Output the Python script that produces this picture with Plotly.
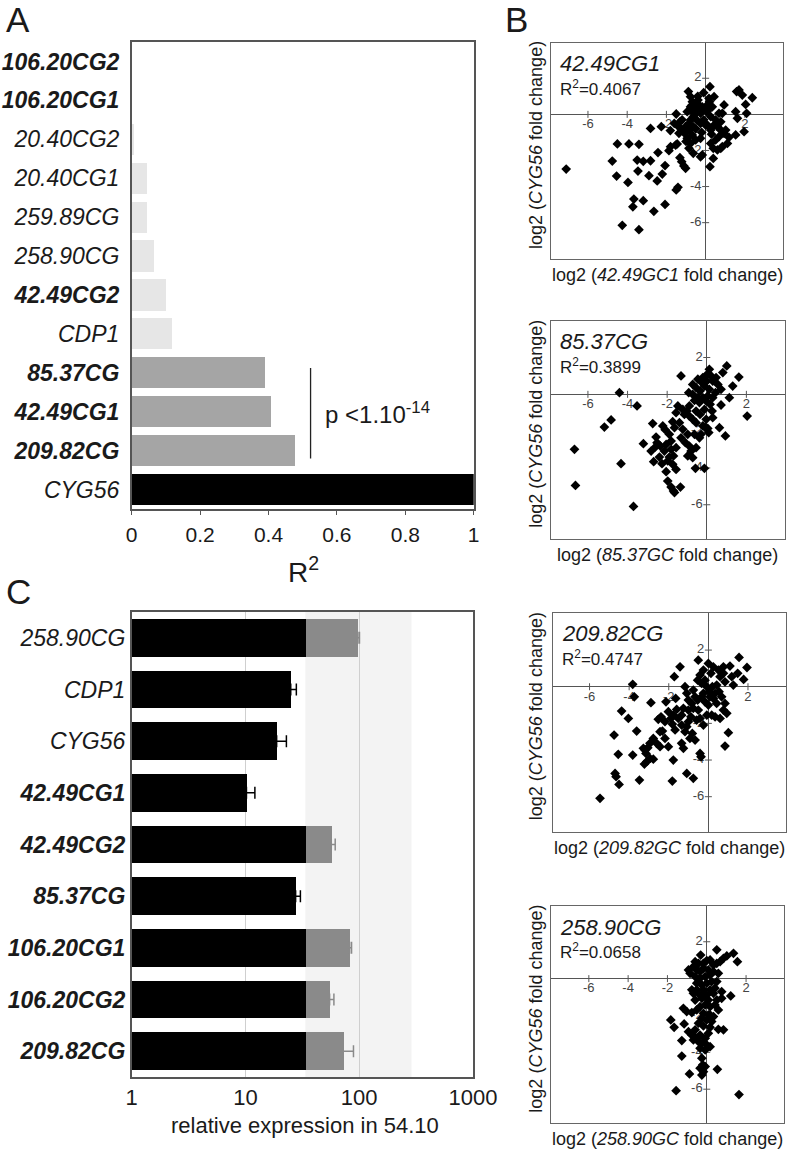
import plotly.graph_objects as go

W, H = 789, 1153
FONT = "Liberation Sans, Arial, sans-serif"
TXT = "#1a1a1a"

# ---------------- Panel A data ----------------
a_genes = ["106.20CG2", "106.20CG1", "20.40CG2", "20.40CG1", "259.89CG", "258.90CG",
           "42.49CG2", "CDP1", "85.37CG", "42.49CG1", "209.82CG", "CYG56"]
a_bold = [True, True, False, False, False, False, True, False, True, True, True, False]
a_r2 = [0.0, 0.0, 0.004, 0.044, 0.043, 0.065, 0.099, 0.117, 0.390, 0.407, 0.477, 1.0]
a_class = ["low", "low", "low", "low", "low", "low", "low", "low", "sig", "sig", "sig", "ref"]
a_xticks = [0, 0.2, 0.4, 0.6, 0.8, 1]
a_xticklabels = ["0", "0.2", "0.4", "0.6", "0.8", "1"]
p_line_x = 0.523
p_line_cats = (7.88, 10.2)
p_text = "p <1.10<sup>-14</sup>"

# ---------------- Panel C data ----------------
c_genes = ["258.90CG", "CDP1", "CYG56", "42.49CG1", "42.49CG2", "85.37CG",
           "106.20CG1", "106.20CG2", "209.82CG"]
c_bold = [False, False, False, True, True, True, True, True, True]
c_expr = [97.0, 25.0, 18.8, 10.2, 56.8, 27.6, 82.2, 54.9, 72.4]
c_err = [3.5, 3.0, 4.1, 1.9, 4.7, 2.8, 3.4, 5.0, 16.6]
c_threshold = 33.6
c_shade_end = 288.0
c_xticks = [1, 10, 100, 1000]
c_xticklabels = ["1", "10", "100", "1000"]

# ---------------- Panel B data ----------------
b_names = ["42.49CG1", "85.37CG", "209.82CG", "258.90CG"]
b_r2 = ["0.4067", "0.3899", "0.4747", "0.0658"]
b_xlabels = ["42.49GC1", "85.37GC", "209.82GC", "258.90GC"]
b_xticks = [-6, -4, -2, 2]
b_yticks = [2, -2, -4, -6]

b1_points = [(-7.11,-3.03),(-4.5,-1.64),(-3.91,-1.64),(-3.40,-1.66),(-4.76,-2.59),(-4.54,-3.42),(-3.96,-3.77),
 (-3.49,-2.53),(-3.18,-2.60),(-2.81,-2.57),(-3.45,-3.14),(-2.89,-3.40),(-2.47,-3.69),(-2.21,-3.31),(-2.07,-2.84),
 (-2.43,-2.12),(-2.81,-0.78),(-2.26,-0.68),(-3.66,-4.69),(-3.71,-5.12),(-3.18,-4.78),(-2.64,-5.37),(-2.07,-4.99),
 (-4.25,-6.15),(-3.40,-6.39),(-1.50,-4.19),(-1.41,-4.04),(-1.87,-2.01),(-1.79,-1.79),(-1.53,-1.70),(-1.45,-1.64),
 (-1.31,-2.40),(-1.22,-2.62),(-1.11,-2.86),(-1.02,-2.99),(-1.50,0.02),(-1.31,-0.41),(-1.41,-0.65),(-1.19,-0.87),
 (-1.07,-1.05),(-1.36,-1.05),(-0.94,-1.33),(-1.02,-0.68),(-0.85,-0.50),(-0.77,-0.31),(-0.88,1.26),(-0.77,0.98),
 (-0.68,0.70),(-0.51,0.61),(-0.34,0.52),(-0.60,0.33),(-0.43,0.24),(-0.26,0.06),(-0.63,-0.13),(-0.51,0.06),
 (-0.39,0.79),(-0.17,0.42),(-0.68,0.15),(-0.94,0.15),(-0.77,0.42),(-0.46,-0.31),(-0.26,-0.50),(-0.63,-0.68),
 (-0.85,-0.87),(-0.68,-1.14),(-0.51,-1.42),(-0.85,-1.88),(-0.63,-2.16),(-0.77,-1.61),(-0.26,-1.33),(-0.17,-2.25),
 (0.22,1.53),(0.17,0.89),(0.43,0.98),(0.09,0.52),(0.34,0.42),(0.05,0.15),(0.26,-0.13),(0.51,-0.31),(0.94,0.52),
 (0.68,0.06),(0.85,0.06),(0.77,-0.41),(0.09,-0.59),(0.43,-0.59),(0.60,-0.68),(0.26,-0.87),(0.77,-0.87),(1.02,-0.87),
 (0.94,-1.05),(0.68,-1.24),(0.51,-1.42),(0.26,-1.61),(0.39,-1.88),(0.77,-1.88),(1.11,-1.61),(1.19,-1.27),(1.53,-1.14),
 (1.96,-0.96),(1.53,0.15),(1.62,-0.22),(2.09,0.06),(2.04,0.55),(2.38,0.92),(1.87,1.07),(1.58,1.26),(1.70,1.35),
 (0.39,-2.44),(0.22,-2.90),(-0.26,-2.35),(0.60,-1.97),(0.85,-1.79),(-0.3,0.3),(-0.1,-0.3),(0.1,0.2),(-0.5,-0.8),
 (-0.2,-1.0),(0.0,-0.6),(-0.4,1.0),(0.2,0.7),(-0.7,0.5),(-1.2,-0.3),(-1.6,-0.5),(-1.8,-0.9),(-1.0,-1.5),(0.3,-1.1),
 (-0.1,1.2)]

b2_points = [(-6.68,-2.99),(-6.63,-4.95),(-3.70,-6.09),(-4.33,-3.77),(-4.41,0.09),(-5.17,-1.78),(-4.83,-1.39),
 (-3.52,-0.63),(-3.20,-2.68),(-2.73,-1.59),(-2.56,-2.32),(-2.51,-2.63),(-2.22,-1.72),(-2.10,-1.92),(-1.72,-1.49),
 (-1.63,-1.81),(-1.89,-2.17),(-1.80,-2.54),(-2.14,-3.08),(-2.39,-3.41),(-2.68,-3.66),(-2.26,-3.77),(-1.97,-3.62),
 (-1.68,-3.35),(-1.55,-2.90),(-1.21,-1.90),(-1.30,-2.36),(-0.96,-2.17),(-1.08,-2.63),(-0.79,-3.08),(-0.96,-3.35),
 (-0.71,-3.44),(-1.89,-3.41),(-1.72,-3.80),(-2.05,-4.20),(-1.97,-4.71),(-1.80,-5.04),(-1.68,-5.25),(-1.63,-5.34),
 (-1.33,-5.04),(-0.57,-4.02),(-0.12,-4.02),(-1.30,1.00),(-1.46,-0.63),(-1.21,-0.82),(-1.01,-0.91),(-0.88,-0.63),
 (-0.88,-1.18),(-0.71,-1.36),(-0.54,-1.54),(-0.34,-1.09),(-0.20,-1.72),(0.05,-1.85),(-0.03,-1.36),(-0.12,-0.82),
 (0.17,-0.54),(0.27,-0.91),(0.64,-1.81),(0.94,-2.26),(0.30,-1.27),(0.72,-0.58),(1.14,-0.18),(2.04,-1.18),(1.62,0.94),
 (1.31,0.45),(1.01,1.54),(0.81,1.18),(0.13,1.36),(0.02,1.09),(-0.45,0.82),(-0.20,0.91),(0.30,0.72),(0.56,0.54),
 (0.72,0.27),(-0.54,0.36),(-0.34,0.18),(-0.12,0.45),(0.13,0.27),(0.44,0.09),(-0.71,0.00),(-0.45,-0.18),(-0.20,-0.18),
 (0.05,-0.09),(0.30,-0.18),(-0.03,-0.36),(-0.37,-0.45),(-0.62,-0.33),(-0.24,0.63),(0.00,0.72),(0.22,1.00),(0.47,0.91),
 (-0.71,0.54),(-0.91,0.09),(-1.13,-1.09),(-1.55,-1.00),(-0.54,-0.91),(-0.29,-2.17),(-0.07,-1.81),(0.10,-2.08),
 (-1.38,-1.54),(-2.34,-2.81),(-2.05,-2.72),(-2.81,-3.08),(-2.59,-2.86),(-1.80,-2.99),(-1.55,-4.08),(-0.88,-2.81),
 (-0.54,-2.90),(-0.37,-2.36),(-0.62,-2.17)]

b3_points = [(-5.47,-6.09),(-4.76,-2.64),(-4.55,-3.69),(-4.71,-4.73),(-4.66,-4.91),(-4.51,-5.33),(-4.38,-1.33),
 (-4.04,-1.73),(-3.82,-3.73),(-3.62,-2.42),(-3.82,0.13),(-3.74,-0.55),(-3.48,-5.09),(-3.28,-3.36),(-3.20,-3.45),
 (-3.06,-3.33),(-3.15,-3.64),(-3.23,-4.22),(-3.11,-4.09),(-2.95,-3.91),(-2.78,-3.95),(-2.78,-2.82),(-2.90,-0.87),
 (-2.61,-3.09),(-2.44,-3.27),(-2.19,-2.82),(-2.32,-2.42),(-2.02,-3.27),(-1.82,-5.15),(-1.77,-4.00),(-2.14,-0.82),
 (-2.53,-1.78),(-2.39,-1.64),(-2.19,-1.91),(-2.02,-1.36),(-1.89,-1.73),(-1.77,-1.55),(-1.82,-2.04),(-1.68,-2.36),
 (-1.60,-1.24),(-1.65,-0.64),(-1.43,1.09),(-1.72,0.55),(-1.26,-1.18),(-1.52,-1.73),(-1.35,-2.09),(-1.18,-2.45),
 (-1.35,-3.09),(-1.26,-3.36),(-1.09,-2.18),(-1.01,-1.91),(-0.88,-1.64),(-0.81,-2.55),(-1.09,-0.36),(-1.18,0.00),
 (-1.01,-0.73),(-0.84,-0.91),(-0.67,-0.55),(-0.76,-0.18),(-0.54,-0.73),(-0.51,-1.27),(-0.42,-1.73),(-0.67,-2.91),
 (-0.42,-3.64),(-0.37,-3.82),(-1.09,-4.73),(-0.76,-5.00),(-0.51,1.45),(-0.54,0.36),(-0.34,0.18),(-0.42,0.64),
 (-0.17,0.36),(-0.25,0.91),(0.00,1.27),(0.25,1.09),(0.13,0.73),(-0.08,0.00),(0.03,-0.27),(-0.25,-0.36),(-0.17,-0.82),
 (0.00,-1.00),(0.17,-1.55),(0.34,-1.64),(-0.08,-1.55),(0.25,-0.64),(0.42,-0.91),(0.42,0.09),(0.59,0.55),(0.51,0.91),
 (0.76,0.73),(0.76,1.09),(1.09,1.13),(0.84,0.27),(0.67,-0.55),(0.84,-0.91),(0.76,-1.27),(0.93,-1.45),(0.59,-1.73),
 (1.01,-2.51),(0.84,-3.24),(1.55,1.60),(1.95,1.05),(1.48,0.73),(1.78,0.40),(1.26,0.09),(1.18,0.55),(0.34,-0.36),
 (0.54,-0.27),(-0.34,-0.55),(0.08,-0.55),(0.20,0.00),(-0.76,-1.18),(-1.01,-1.27),(-1.35,-1.55),(-0.59,-1.82),
 (-0.25,-2.09),(-0.93,-2.82),(-2.44,-2.45),(-2.95,-3.09)]

b4_points = [(0.51,1.56),(-0.31,1.28),(1.36,1.37),(1.56,0.92),(1.02,1.23),(0.85,1.10),(0.68,0.92),(0.51,0.83),
 (0.34,0.74),(0.17,1.01),(0.00,0.98),(-0.17,0.83),(-0.42,0.83),(-0.93,0.47),(-0.85,0.29),(-0.68,0.65),(-0.51,0.47),
 (-0.34,0.38),(-0.17,0.56),(0.08,0.47),(0.34,0.38),(0.59,0.29),(0.17,0.20),(-0.08,0.11),(-0.34,0.02),(-0.59,0.11),
 (-0.51,-0.25),(-0.25,-0.34),(0.00,-0.25),(0.25,-0.16),(0.51,-0.16),(0.42,-0.52),(0.17,-0.61),(-0.17,-0.61),
 (-0.51,-0.61),(-0.76,-0.61),(-0.68,-0.80),(-0.34,-0.89),(0.00,-0.89),(0.34,-0.80),(0.76,-0.71),(1.22,-0.94),
 (-0.25,-1.07),(0.08,-1.16),(0.51,-1.16),(0.76,-1.07),(-1.19,-1.61),(-1.02,-1.79),(-0.76,-1.84),(-0.51,-1.70),
 (-0.34,-1.52),(-0.08,-1.43),(0.17,-1.52),(0.42,-1.43),(0.59,-1.70),(-0.17,-1.88),(0.08,-1.97),(0.34,-2.06),
 (0.25,-2.33),(0.00,-2.24),(-0.25,-2.15),(-0.42,-2.42),(-0.17,-2.57),(0.17,-2.64),(-1.83,-2.24),(-1.66,-2.64),
 (-1.15,-2.46),(0.59,-2.75),(0.85,-2.78),(0.08,-2.97),(-0.76,-3.06),(-0.59,-3.18),(-0.34,-3.06),(-0.08,-3.24),
 (-0.68,-3.33),(-0.42,-3.42),(-0.25,-3.51),(0.00,-3.60),(0.17,-3.69),(-0.08,-3.87),(-0.34,-3.78),(-1.27,-3.36),
 (-1.27,-4.20),(-0.25,-4.32),(-0.20,-4.68),(-0.34,-4.86),(-0.17,-5.05),(-0.08,-4.77),(0.54,-4.92),(-0.88,-5.17),
 (-0.25,-5.23),(-1.56,-6.08),(1.64,-6.29),(-0.59,0.92),(0.17,-1.97),(-0.59,-1.16),(-0.59,-2.78),(-0.93,-2.88)]
b_points = [b1_points, b2_points, b3_points, b4_points]

# ---------------- styling / layout helpers ----------------
def px(x):
    return x / W

def py(y):
    return 1 - y / H

a_colors = {"low": "#e6e6e6", "sig": "#a5a5a5", "ref": "#000000"}
BOX = "#555555"

def fmt(name, bold):
    s = "<i>%s</i>" % name
    return "<b>%s</b>" % s if bold else s

fig = go.Figure()

# ---- Panel A bars ----
fig.add_trace(go.Bar(
    x=a_r2, y=a_genes, orientation="h", width=0.8,
    marker=dict(color=[a_colors[c] for c in a_class], line=dict(width=0)),
    xaxis="x", yaxis="y", showlegend=False, hoverinfo="x+y"))

# ---- Panel C bars (black up to threshold, grey beyond) ----
black_part = [min(v, c_threshold) - 1 for v in c_expr]
grey_part = [max(v - c_threshold, 0) for v in c_expr]
fig.add_trace(go.Bar(
    x=black_part, base=[1] * len(c_expr), y=c_genes, orientation="h", width=0.73,
    marker=dict(color="#000000", line=dict(width=0)),
    xaxis="x2", yaxis="y2", showlegend=False))
fig.add_trace(go.Bar(
    x=grey_part, base=[c_threshold] * len(c_expr), y=c_genes, orientation="h", width=0.73,
    marker=dict(color="#8a8a8a", line=dict(width=0)),
    xaxis="x2", yaxis="y2", showlegend=False))
for is_grey, col in [(False, "#000000"), (True, "#8a8a8a")]:
    xs = [v for v in c_expr if (v > c_threshold) == is_grey]
    ys = [g for g, v in zip(c_genes, c_expr) if (v > c_threshold) == is_grey]
    es = [e for e, v in zip(c_err, c_expr) if (v > c_threshold) == is_grey]
    fig.add_trace(go.Scatter(
        x=xs, y=ys, mode="markers", marker=dict(size=1, opacity=0),
        error_x=dict(type="data", array=es, arrayminus=[0] * len(es), symmetric=False,
                     color=col, thickness=1.5, width=6),
        xaxis="x2", yaxis="y2", showlegend=False, hoverinfo="skip"))

# ---- Panel B scatter plots ----
b_boxes = [  # left, right, top, bottom (px) and ranges
    dict(l=550.7, r=783.3, t=42.7, b=259.3, xr=[-7.9, 3.96], yr=[-8.03, 3.97]),
    dict(l=550.7, r=785.0, t=320.7, b=539.0, xr=[-7.88, 3.95], yr=[-7.86, 4.0]),
    dict(l=552.7, r=786.0, t=612.7, b=831.7, xr=[-7.86, 3.92], yr=[-7.91, 4.04]),
    dict(l=550.7, r=784.0, t=906.0, b=1123.3, xr=[-7.94, 3.93], yr=[-7.85, 3.94]),
]

layout_axes = {}
annotations = []
for i, (bx, pts) in enumerate(zip(b_boxes, b_points)):
    n = i + 3
    xa, ya = "x%d" % n, "y%d" % n
    fig.add_trace(go.Scatter(
        x=b_xticks, y=[0] * len(b_xticks), mode="markers+text",
        text=[str(t) for t in b_xticks], textposition="bottom center",
        textfont=dict(family=FONT, size=13, color="#444"),
        marker=dict(symbol="line-ns-open", size=5, color="#555", line=dict(width=1, color="#555")),
        xaxis=xa, yaxis=ya, showlegend=False, hoverinfo="skip", cliponaxis=False))
    fig.add_trace(go.Scatter(
        x=[0] * len(b_yticks), y=b_yticks, mode="markers+text",
        text=[str(t) for t in b_yticks], textposition="middle left",
        textfont=dict(family=FONT, size=13, color="#444"),
        marker=dict(symbol="line-ew-open", size=5, color="#555", line=dict(width=1, color="#555")),
        xaxis=xa, yaxis=ya, showlegend=False, hoverinfo="skip", cliponaxis=False))
    fig.add_trace(go.Scatter(
        x=[p[0] for p in pts], y=[p[1] for p in pts], mode="markers",
        marker=dict(symbol="diamond", size=7.5, color="#000000", line=dict(width=0)),
        xaxis=xa, yaxis=ya, showlegend=False))
    common = dict(showline=True, mirror=True, linecolor="#666", linewidth=1.2,
                  zeroline=True, zerolinecolor="#555", zerolinewidth=1,
                  showgrid=False, showticklabels=False, ticks="", fixedrange=True,
                  automargin=False)
    layout_axes["xaxis%d" % n] = dict(domain=[px(bx["l"]), px(bx["r"])], range=bx["xr"],
                                      anchor=ya, **common)
    layout_axes["yaxis%d" % n] = dict(domain=[py(bx["b"]), py(bx["t"])], range=bx["yr"],
                                      anchor=xa, **common)
    annotations.append(dict(x=px(bx["l"] + 7), y=py(bx["t"] + 21), xref="paper", yref="paper",
                            text="<i>%s</i>" % b_names[i], showarrow=False, xanchor="left",
                            yanchor="middle", font=dict(family=FONT, size=22, color=TXT)))
    annotations.append(dict(x=px(bx["l"] + 7), y=py(bx["t"] + 45), xref="paper", yref="paper",
                            text="R<sup>2</sup>=%s" % b_r2[i], showarrow=False, xanchor="left",
                            yanchor="middle", font=dict(family=FONT, size=17, color=TXT)))
    annotations.append(dict(x=px((bx["l"] + bx["r"]) / 2), y=py(bx["b"] + 16), xref="paper",
                            yref="paper", text="log2 (<i>%s</i> fold change)" % b_xlabels[i],
                            showarrow=False, xanchor="center", yanchor="middle",
                            font=dict(family=FONT, size=18, color=TXT)))
    annotations.append(dict(x=px(536), y=py((bx["t"] + bx["b"]) / 2 - 6), xref="paper",
                            yref="paper", text="log2 (<i>CYG56</i> fold change)",
                            showarrow=False, textangle=-90, xanchor="center", yanchor="middle",
                            font=dict(family=FONT, size=18, color=TXT)))

# ---- Shapes ----
shapes = [
    dict(type="rect", xref="x2", yref="y2 domain", x0=c_threshold, x1=c_shade_end, y0=0, y1=1,
         fillcolor="#f3f3f3", line=dict(width=0), layer="below"),
    dict(type="line", xref="x", yref="y", x0=p_line_x, x1=p_line_x,
         y0=p_line_cats[0], y1=p_line_cats[1], line=dict(color="#222", width=1.3)),
]

# ---- Panel letters and titles ----
for letter, lx, ly in [("A", 4, 20), ("B", 503, 20), ("C", 4, 591)]:
    annotations.append(dict(x=px(lx), y=py(ly), xref="paper", yref="paper", text=letter,
                            showarrow=False, xanchor="left", yanchor="middle",
                            font=dict(family=FONT, size=35, color=TXT)))

annotations += [
    dict(x=px(303), y=py(570), xref="paper", yref="paper", text="R<sup>2</sup>",
         showarrow=False, xanchor="center", yanchor="middle",
         font=dict(family=FONT, size=28, color=TXT)),
    dict(x=px(305), y=py(1125), xref="paper", yref="paper", text="relative expression in 54.10",
         showarrow=False, xanchor="center", yanchor="middle",
         font=dict(family=FONT, size=22, color=TXT)),
    dict(x=px(323), y=py(413), xref="paper", yref="paper", text=p_text,
         showarrow=False, xanchor="left", yanchor="middle",
         font=dict(family=FONT, size=24, color=TXT)),
]

fig.update_layout(
    width=W, height=H, margin=dict(l=0, r=0, t=0, b=0, autoexpand=False),
    paper_bgcolor="white", plot_bgcolor="rgba(0,0,0,0)",
    font=dict(family=FONT, color=TXT),
    barmode="overlay", bargap=0, showlegend=False,
    xaxis=dict(domain=[px(131.7), px(473.7)], range=[0, 1], anchor="y",
               tickvals=a_xticks, ticktext=a_xticklabels, ticks="outside", ticklen=4,
               tickcolor=BOX, tickfont=dict(size=21, color=TXT), ticklabelstandoff=2,
               showline=True, mirror=True, linecolor=BOX, linewidth=1.5,
               showgrid=False, zeroline=False, fixedrange=True, automargin=False),
    yaxis=dict(domain=[py(509), py(42)], type="category", categoryarray=a_genes,
               range=[len(a_genes) - 0.5, -0.5], anchor="x",
               tickvals=a_genes, ticktext=[fmt(g, b) for g, b in zip(a_genes, a_bold)],
               ticks="", tickfont=dict(size=23, color=TXT), ticklabelstandoff=6,
               showline=True, mirror=True, linecolor=BOX, linewidth=1.5,
               showgrid=False, zeroline=False, fixedrange=True, automargin=False),
    xaxis2=dict(domain=[px(131.7), px(473.0)], type="log", range=[0, 3], anchor="y2",
                tickvals=c_xticks, ticktext=c_xticklabels, ticks="",
                tickfont=dict(size=22, color=TXT), ticklabelstandoff=0,
                showline=True, mirror=True, linecolor=BOX, linewidth=1.5,
                showgrid=True, gridcolor="#cfcfcf", gridwidth=1, zeroline=False,
                fixedrange=True, automargin=False),
    yaxis2=dict(domain=[py(1077), py(612)], type="category", categoryarray=c_genes,
                range=[len(c_genes) - 0.5, -0.5], anchor="x2",
                tickvals=c_genes, ticktext=[fmt(g, b) for g, b in zip(c_genes, c_bold)],
                ticks="", tickfont=dict(size=23, color=TXT), ticklabelstandoff=0,
                showline=True, mirror=True, linecolor=BOX, linewidth=1.5,
                showgrid=False, zeroline=False, fixedrange=True, automargin=False),
    shapes=shapes,
    annotations=annotations,
    **layout_axes,
)

fig.write_html("out.html", config={"displayModeBar": False},
               post_script="document.body.style.margin='0';document.body.style.overflow='hidden';")
